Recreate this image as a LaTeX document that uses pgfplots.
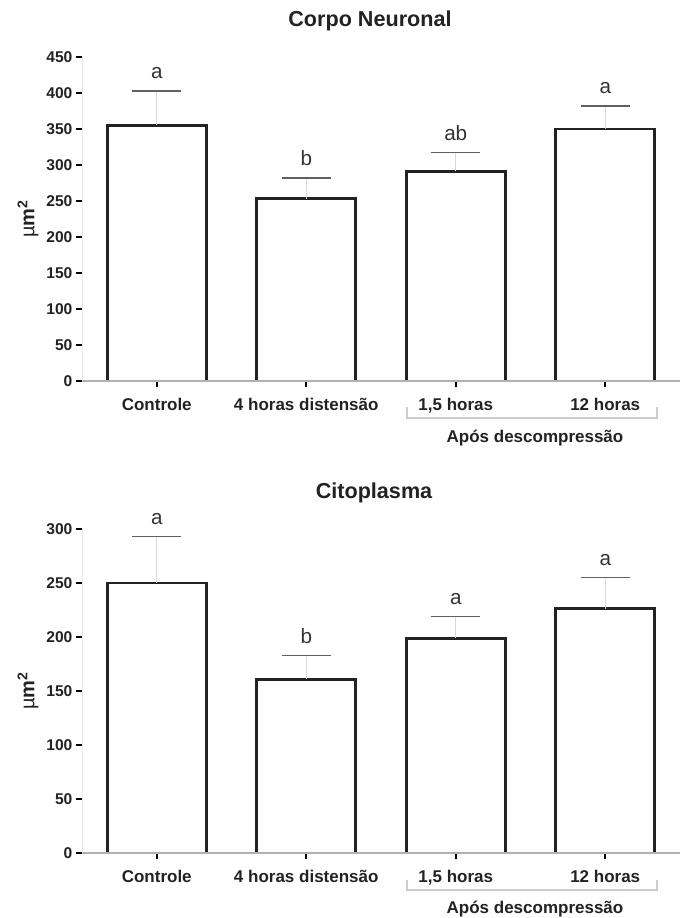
\documentclass[border=0pt]{standalone}
\usepackage{fontspec}
\setmainfont{Liberation Sans}
\usepackage{pgfplots}
\pgfplotsset{compat=1.18}
\definecolor{barline}{HTML}{222222}
\definecolor{lettercol}{HTML}{333333}
\definecolor{capcol}{HTML}{606060}
\definecolor{errcol}{HTML}{D8D8D8}
\definecolor{xaxcol}{HTML}{B0B0B0}
\definecolor{yaxcol}{HTML}{E6E6E6}
\definecolor{brackcol}{HTML}{CCCCCC}
\pgfplotsset{
  mybars/.style={
    width=448.5pt, height=243pt, scale only axis,
    xmin=-0.5, xmax=3.5, ymin=0,
    axis x line=bottom, axis y line=left,
    axis line style={-},
    x axis line style={draw=xaxcol, line width=1.5pt},
    y axis line style={draw=yaxcol, line width=0.6pt},
    xtick={0,1,2,3},
    xticklabels={Controle, 4 horas distensão, {1,5 horas}, 12 horas},
    tick align=outside,
    major tick length=4.5pt,
    tick style={draw=black, line width=1.8pt},
    xticklabel style={font=\fontsize{12.75}{14}\selectfont\bfseries, text=barline, anchor=base, inner sep=0pt, yshift=-17.6pt},
    yticklabel style={font=\fontsize{11.7}{13}\selectfont\bfseries, text=barline, anchor=east, inner sep=0pt, xshift=-2.5pt},
    /pgf/number format/assume math mode=true,
    axis on top,
    ylabel={\fontsize{15}{17}\selectfont µ\textbf{m\textsuperscript{2}}},
    ylabel style={at={(axis description cs:-0.0903,0.5)}, anchor=center, text=barline},
  },
  barstyle/.style={ybar, bar width=0.66, draw=barline, line width=2.2pt, fill=white,
    error bars/.cd, y dir=plus, y explicit,
    error bar style={draw=errcol, line width=0.8pt},
    error mark options={rotate=90, draw=capcol, line width=1.1pt, mark size=18.4pt}},
  letterstyle/.style={draw=none, mark=none, point meta=explicit symbolic,
    nodes near coords={\fontsize{15.5}{18}\selectfont\pgfplotspointmeta},
    nodes near coords style={text=lettercol, anchor=base, inner sep=0pt, yshift=9pt}},
}
\begin{document}
\begin{tikzpicture}[x=0.75pt,y=0.75pt]
\path[use as bounding box] (0,0) rectangle (682,918);
% top panel
\begin{axis}[mybars, at={(61.5pt,402.75pt)}, anchor=south west, ymax=450, ytick={0,50,...,450}]
\addplot[barstyle] coordinates {(0,355) +- (0,48) (1,253) +- (0,29) (2,291) +- (0,26) (3,350) +- (0,32)};
\addplot[letterstyle] coordinates {(0,403) [a] (1,282) [b] (2,317) [ab] (3,382) [a]};
\end{axis}
% bottom panel
\begin{axis}[mybars, at={(61.5pt,48.75pt)}, anchor=south west, ymax=300, ytick={0,50,...,300}]
\addplot[barstyle] coordinates {(0,250) +- (0,43) (1,161) +- (0,22) (2,199) +- (0,20) (3,226) +- (0,29)};
\addplot[letterstyle] coordinates {(0,293) [a] (1,183) [b] (2,219) [a] (3,255) [a]};
\end{axis}
% titles
\node[anchor=base, font=\fontsize{16.2}{18}\selectfont\bfseries, text=barline] at (370,891) {Corpo Neuronal};
\node[anchor=base, font=\fontsize{16.2}{18}\selectfont\bfseries, text=barline] at (374,419) {Citoplasma};
% brackets
\draw[brackcol, line width=0.8pt] (407,511) -- (407,500) -- (657,500) -- (657,511);
\draw[brackcol, line width=0.8pt] (407,38) -- (407,28) -- (657,28) -- (657,38);
\node[anchor=base, font=\fontsize{12.75}{14}\selectfont\bfseries, text=barline] at (535,475) {Após descompressão};
\node[anchor=base, font=\fontsize{12.75}{14}\selectfont\bfseries, text=barline] at (535,5) {Após descompressão};
\end{tikzpicture}
\end{document}
